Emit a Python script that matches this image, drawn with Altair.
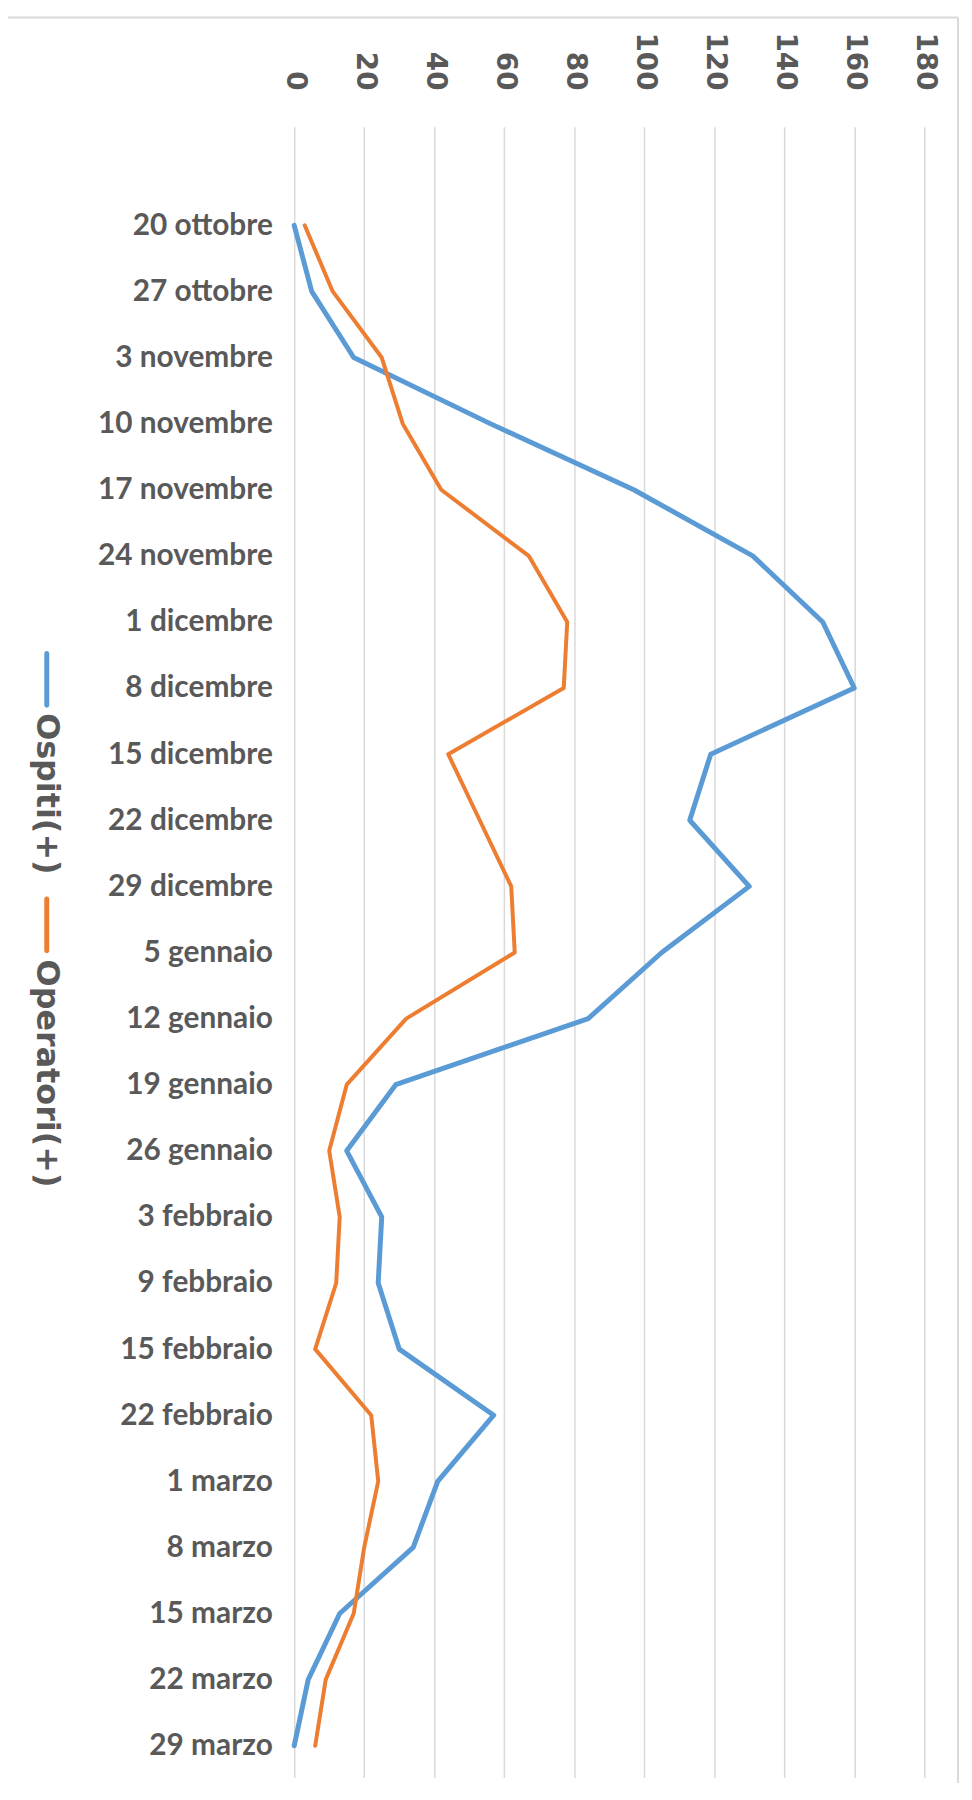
import json
import altair as alt
import pandas as pd

dates = ["20 ottobre", "27 ottobre", "3 novembre", "10 novembre", "17 novembre",
         "24 novembre", "1 dicembre", "8 dicembre", "15 dicembre", "22 dicembre",
         "29 dicembre", "5 gennaio", "12 gennaio", "19 gennaio", "26 gennaio",
         "3 febbraio", "9 febbraio", "15 febbraio", "22 febbraio", "1 marzo",
         "8 marzo", "15 marzo", "22 marzo", "29 marzo"]
ospiti = [0, 5, 17, 56, 97, 131, 151, 160, 119, 113, 130, 105, 84, 29, 15,
          25, 24, 30, 57, 41, 34, 13, 4, 0]
operatori = [3, 11, 25, 31, 42, 67, 78, 77, 44, 53, 62, 63, 32, 15, 10,
             13, 12, 6, 22, 24, 20, 17, 9, 6]
series_names = ["Ospiti(+)", "Operatori(+)"]
series_colors = ["#5B9BD5", "#ED7D31"]
value_ticks = list(range(0, 181, 20))

rows = []
for name, vals in zip(series_names, [ospiti, operatori]):
    for i, v in enumerate(vals):
        rows.append({"series": name, "idx": i, "value": v})
df = pd.DataFrame(rows)

label_expr = json.dumps(dates) + "[datum.value]"
GRAY = "#595959"
GRID = "#D9D9D9"

lines = alt.Chart(df).mark_line(strokeJoin="round", strokeCap="round").encode(
    x=alt.X("value:Q",
            scale=alt.Scale(domain=[0, 180], nice=False, zero=True),
            axis=alt.Axis(orient="top", values=value_ticks, labelAngle=90,
                          labelAlign="right", labelBaseline="middle",
                          labelFont="DejaVu Sans", labelFontWeight="bold",
                          labelFontSize=28, labelColor=GRAY, labelPadding=37,
                          ticks=False, tickSize=0, domain=False, grid=True,
                          gridColor=GRID, gridWidth=1.5, title=None,
                          labelFlush=False, labelOverlap=False)),
    y=alt.Y("idx:Q",
            scale=alt.Scale(domain=[-1.49, 23.48], reverse=True, nice=False, zero=False),
            axis=alt.Axis(values=list(range(len(dates))), labelExpr=label_expr,
                          grid=False, domain=False, ticks=False, tickSize=0,
                          labelFont="Lato", labelFontWeight="bold",
                          labelFontSize=30, labelColor=GRAY, labelPadding=22,
                          title=None, labelFlush=False, labelOverlap=False)),
    color=alt.Color("series:N", scale=alt.Scale(domain=series_names, range=series_colors),
                    legend=None),
    strokeWidth=alt.StrokeWidth("series:N",
                                scale=alt.Scale(domain=series_names, range=[5, 4]),
                                legend=None),
    order=alt.Order("idx:Q"),
)

one = pd.DataFrame({"k": [0]})

border_top = alt.Chart(one).mark_rule(color=GRID, strokeWidth=2).encode(
    x=alt.value(-300), x2=alt.value(668), y=alt.value(-110))
border_right = alt.Chart(one).mark_rule(color=GRID, strokeWidth=2).encode(
    x=alt.value(668), y=alt.value(-110), y2=alt.value(1700))

leg_layers = []
leg_spots = [(530, 582, 590), (777, 829, 838)]
for name, col, (y1, y2, yt) in zip(series_names, series_colors, leg_spots):
    leg_layers.append(alt.Chart(one).mark_rule(color=col, strokeWidth=5, strokeCap="round").encode(
        x=alt.value(-249), y=alt.value(y1), y2=alt.value(y2)))
    leg_layers.append(alt.Chart(one).mark_text(angle=90, align="left", baseline="middle",
                                               font="DejaVu Sans", fontWeight="bold",
                                               fontSize=32, color=GRAY).encode(
        x=alt.value(-249), y=alt.value(yt), text=alt.value(name)))

chart = alt.layer(border_top, border_right, lines, *leg_layers).properties(
    width=634, height=1661,
    autosize=alt.AutoSizeParams(type="none"),
    padding={"left": 288, "top": 114, "right": 40, "bottom": 0},
    background="white",
).configure_view(strokeWidth=0)

chart.save("out.html", embed_options={"renderer": "svg", "actions": False})
